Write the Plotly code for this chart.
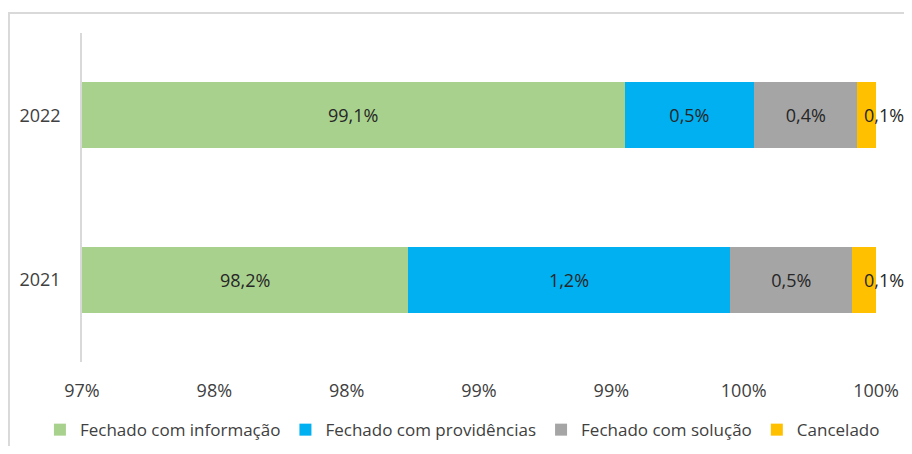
import plotly.graph_objects as go

years = ["2021", "2022"]
series_names = ["Fechado com informação", "Fechado com providências",
                "Fechado com solução", "Cancelado"]
informacao = [98.23, 99.05]
providencias = [1.22, 0.49]
solucao = [0.46, 0.39]
cancelado = [0.09, 0.07]
labels_informacao = ["98,2%", "99,1%"]
labels_providencias = ["1,2%", "0,5%"]
labels_solucao = ["0,5%", "0,4%"]
labels_cancelado = ["0,1%", "0,1%"]
tick_values = [97, 97.5, 98, 98.5, 99, 99.5, 100]
tick_labels = ["97%", "98%", "98%", "99%", "99%", "100%", "100%"]
axis_min, axis_max = 97, 100

colors = ["#A9D18E", "#00B0F0", "#A5A5A5", "#FFC000"]
FONT = "Open Sans"
TXT = "#404040"
LBL = "#262626"

series = [informacao, providencias, solucao, cancelado]
texts = [[""] * 2, labels_providencias, labels_solucao, [""] * 2]

fig = go.Figure()
for name, vals, txt, col in zip(series_names, series, texts, colors):
    fig.add_trace(go.Bar(
        y=years, x=vals, name=name, orientation="h",
        marker=dict(color=col, line=dict(width=0)),
        text=txt, textposition="inside", insidetextanchor="middle",
        textfont=dict(family=FONT, size=18, color=LBL),
        constraintext="none", hoverinfo="skip",
    ))

# label of the first series, centred in its visible part (axis starts at 97%)
for i, (v, lab) in enumerate(zip(informacao, labels_informacao)):
    fig.add_annotation(x=(axis_min + v) / 2, y=i, xref="x", yref="y", text=lab,
                       showarrow=False, xanchor="center", yanchor="middle",
                       font=dict(family=FONT, size=18, color=LBL))

# label of the last (tiny) series, just right of the bar end
for i, lab in enumerate(labels_cancelado):
    fig.add_annotation(x=axis_max, y=i, xref="x", yref="y", text=lab, showarrow=False,
                       xanchor="center", yanchor="middle", xshift=8,
                       font=dict(family=FONT, size=18, color=LBL))

fig.add_shape(type="rect", xref="paper", yref="paper",
              x0=-0.092, x1=1.07, y0=-0.35, y1=1.061,
              line=dict(color="#D9D9D9", width=2), fillcolor="rgba(0,0,0,0)", layer="below")

fig.update_layout(
    barmode="stack", bargap=0.6,
    width=896, height=438,
    margin=dict(l=74, r=28, t=25, b=84, autoexpand=False),
    paper_bgcolor="white", plot_bgcolor="white",
    font=dict(family=FONT, size=16, color=TXT),
    showlegend=True,
    legend=dict(orientation="h", x=-0.053, xanchor="left", y=-0.207, yanchor="middle",
                font=dict(family=FONT, size=17, color=TXT),
                traceorder="normal", itemclick=False, itemdoubleclick=False),
    xaxis=dict(range=[axis_min, axis_max], tickvals=tick_values, ticktext=tick_labels,
               showgrid=False, zeroline=False, showline=False,
               ticks="outside", ticklen=12, tickcolor="rgba(0,0,0,0)",
               tickfont=dict(family=FONT, size=18, color=TXT), fixedrange=True),
    yaxis=dict(type="category", categoryorder="array", categoryarray=years,
               range=[-0.5, 1.5], showgrid=False, zeroline=False,
               showline=True, linecolor="#D9D9D9", linewidth=1.5,
               ticks="outside", ticklen=16, tickcolor="rgba(0,0,0,0)",
               tickfont=dict(family=FONT, size=18, color=TXT), fixedrange=True),
)

fig.write_html("out.html")
